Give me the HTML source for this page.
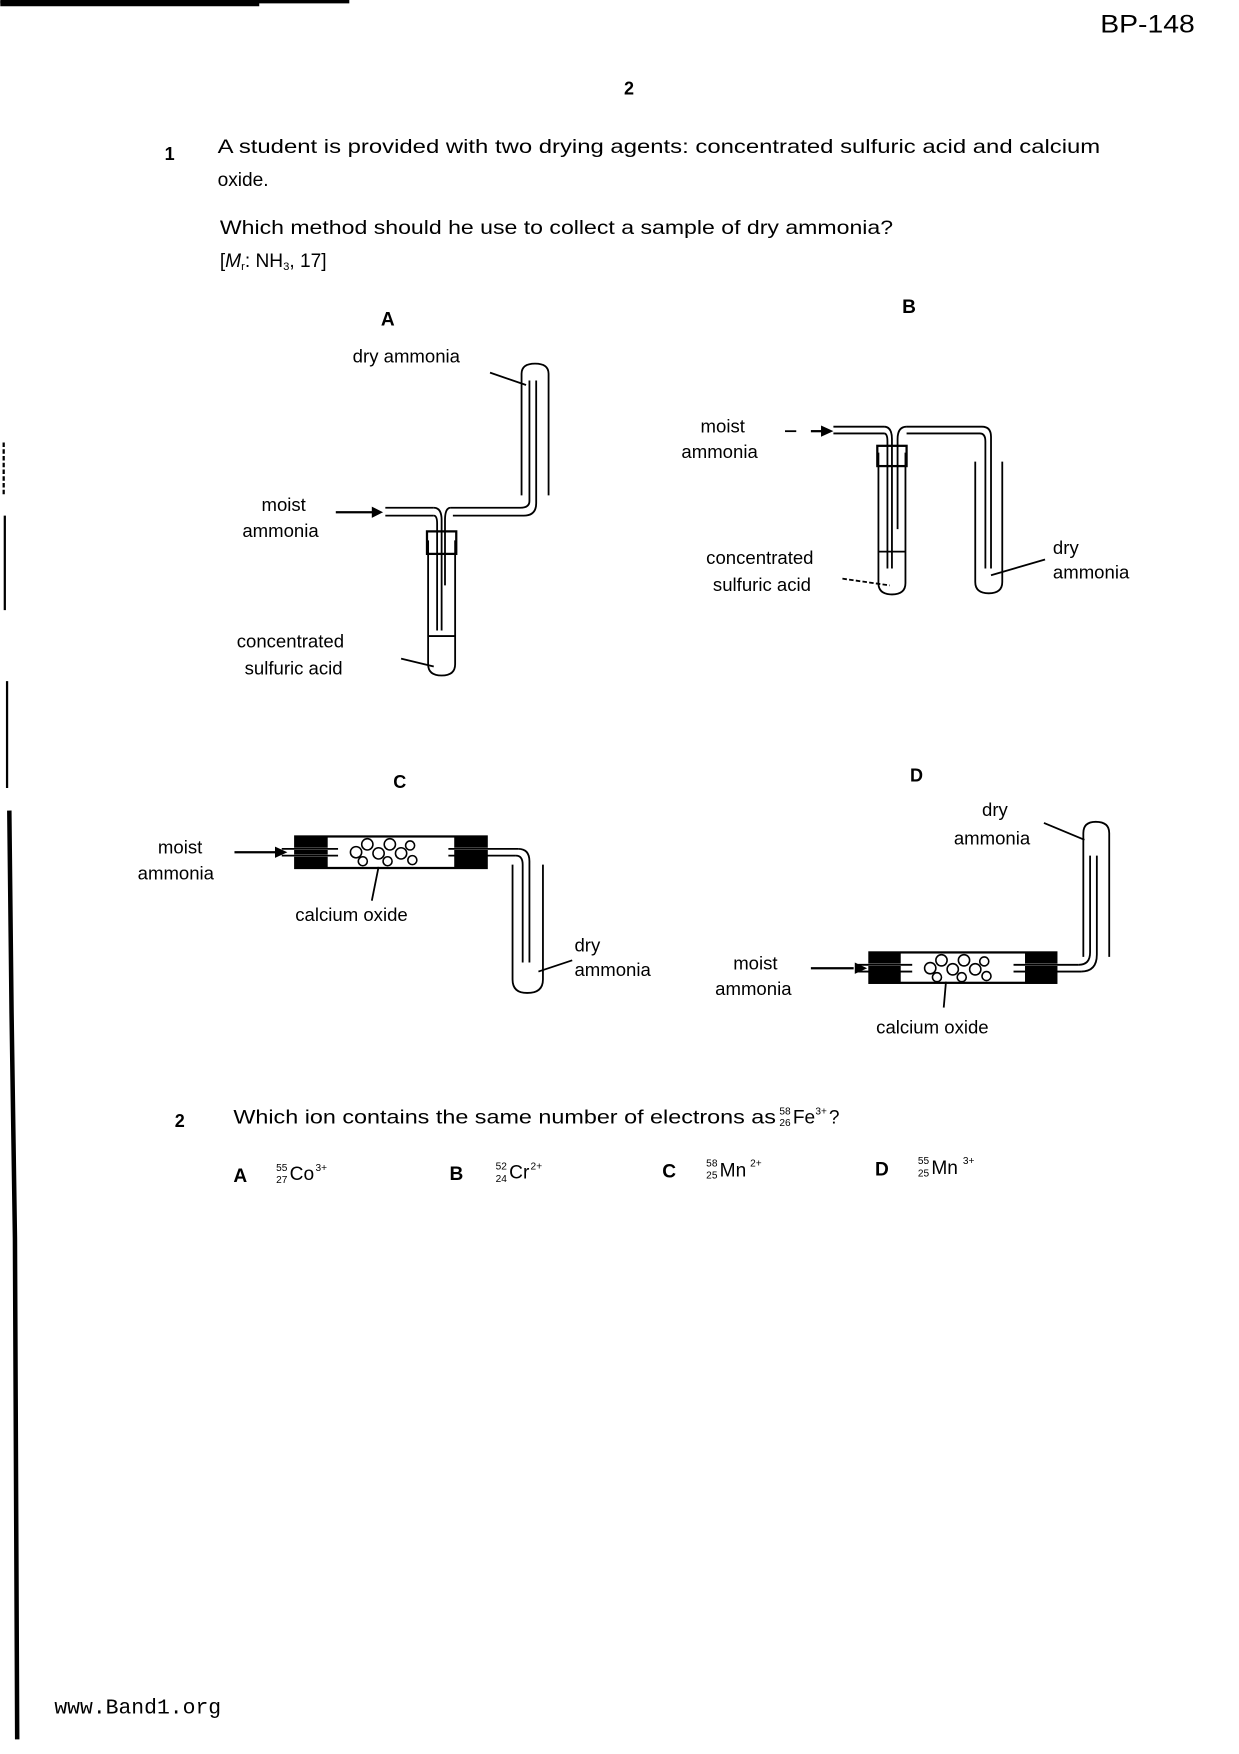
<!DOCTYPE html>
<html><head><meta charset="utf-8"><style>
html,body{margin:0;padding:0;background:#fff;}
svg{display:block;}
text{font-family:"Liberation Sans",Arial,sans-serif;fill:#000;}
.t{font-size:17px;}
.l{font-size:16.5px;}
.b{font-weight:bold;}
.s{font-size:9px;}
</style></head><body>
<svg width="1239" height="1754" viewBox="0 0 1100 1558" xmlns="http://www.w3.org/2000/svg">
<g stroke="#000" fill="none">
<line x1="0" y1="1.5" x2="310" y2="1.5" stroke-width="3"/>
<line x1="0" y1="3" x2="230" y2="3" stroke-width="5"/>
<line x1="3" y1="393" x2="3" y2="440" stroke-width="2" stroke-dasharray="4 2"/>
<line x1="4" y1="458" x2="4" y2="542" stroke-width="2"/>
<line x1="6" y1="605" x2="6" y2="700" stroke-width="2"/>
<path d="M8 720 L10 900 L13 1100 L15 1545" stroke-width="4"/>
</g>

<text x="977" y="29" style="font-size:22px" textLength="84" lengthAdjust="spacingAndGlyphs">BP-148</text>
<text x="554" y="84" class="b" style="font-size:16px">2</text>
<text x="146" y="142" class="b" style="font-size:16px">1</text>
<text x="193" y="136" class="t" textLength="784" lengthAdjust="spacingAndGlyphs">A student is provided with two drying agents: concentrated sulfuric acid and calcium</text>
<text x="193" y="165" class="t">oxide.</text>
<text x="195" y="208" class="t" textLength="598" lengthAdjust="spacingAndGlyphs">Which method should he use to collect a sample of dry ammonia?</text>
<text x="195" y="237" class="t">[<tspan font-style="italic">M</tspan><tspan font-size="10" dy="3">r</tspan><tspan dy="-3">: NH</tspan><tspan font-size="10" dy="3">3</tspan><tspan dy="-3">, 17]</tspan></text>

<text x="338" y="289" class="b" style="font-size:17px">A</text>
<text x="313" y="322" class="l">dry ammonia</text>
<text x="232" y="454" class="l">moist</text>
<text x="215" y="477" class="l">ammonia</text>
<text x="210" y="575" class="l">concentrated</text>
<text x="217" y="599" class="l">sulfuric acid</text>
<g stroke="#000" fill="none" stroke-width="1.6">
<line x1="435" y1="331" x2="467" y2="342"/>
<path d="M463 440 L463 332 Q463 323 475 323 Q487 323 487 332 L487 440"/>
<path d="M470 338 L470 445 Q470 451 462 451 L400 451"/>
<path d="M476 338 L476 447 Q476 458 465 458 L402 458"/>
<line x1="342" y1="451" x2="385" y2="451"/>
<line x1="342" y1="458" x2="385" y2="458"/>
<path d="M385 451 Q392 451 392 462 L392 560"/>
<path d="M385 458 Q388 458 388 465 L388 560"/>
<path d="M400 451 Q395 451 395 462 L395 520"/>
<path d="M380 480 L380 590 Q380 600 392 600 Q404 600 404 590 L404 480"/>
<rect x="379" y="472" width="26" height="20" stroke-width="2"/>
<line x1="380" y1="565" x2="404" y2="565"/>
<line x1="356" y1="585" x2="385" y2="592"/>
<line x1="298" y1="455" x2="332" y2="455" stroke-width="2"/>
</g>
<polygon points="340,455 330,450 330,460" fill="#000"/>

<text x="801" y="278" class="b" style="font-size:17px">B</text>
<text x="622" y="384" class="l">moist</text>
<text x="605" y="407" class="l">ammonia</text>
<text x="627" y="501" class="l">concentrated</text>
<text x="633" y="525" class="l">sulfuric acid</text>
<text x="935" y="492" class="l">dry</text>
<text x="935" y="514" class="l">ammonia</text>
<g stroke="#000" fill="none" stroke-width="1.6">
<line x1="697" y1="383" x2="707" y2="383"/>
<line x1="720" y1="383" x2="730" y2="383" stroke-width="2"/>
<line x1="740" y1="379" x2="785" y2="379"/>
<line x1="740" y1="385" x2="785" y2="385"/>
<path d="M785 379 Q792 379 792 390 L792 505"/>
<path d="M785 385 Q788 385 788 392 L788 505"/>
<path d="M805 379 L872 379 Q880 379 880 388 L880 505"/>
<path d="M805 385 L870 385 Q875 385 875 392 L875 505"/>
<path d="M805 379 Q797 379 797 390 L797 470"/>
<path d="M780 402 L780 518 Q780 528 792 528 Q804 528 804 518 L804 402"/>
<rect x="779" y="396" width="26" height="18" stroke-width="2"/>
<line x1="780" y1="490" x2="804" y2="490"/>
<path d="M866 410 L866 517 Q866 527 878 527 Q890 527 890 517 L890 410"/>
<line x1="748" y1="514" x2="790" y2="520" stroke-dasharray="4 2"/>
<line x1="928" y1="497" x2="880" y2="511"/>
</g>
<polygon points="740,383 729,378 729,388" fill="#000"/>

<text x="349" y="700" class="b" style="font-size:16px">C</text>
<text x="140" y="758" class="l">moist</text>
<text x="122" y="781" class="l">ammonia</text>
<text x="262" y="818" class="l">calcium oxide</text>
<text x="510" y="845" class="l">dry</text>
<text x="510" y="867" class="l">ammonia</text>
<g stroke="#000" fill="none" stroke-width="1.6">
<line x1="208" y1="757" x2="246" y2="757" stroke-width="2"/>
<rect x="262" y="743" width="170" height="28" stroke-width="2"/>
<rect x="262" y="743" width="28" height="28" fill="#000"/>
<rect x="404" y="743" width="28" height="28" fill="#000"/>
<line x1="250" y1="754" x2="300" y2="754" stroke="#fff" stroke-width="2"/>
<line x1="250" y1="760" x2="300" y2="760" stroke="#fff" stroke-width="2"/>
<line x1="250" y1="754" x2="300" y2="754"/>
<line x1="250" y1="760" x2="300" y2="760"/>
<line x1="398" y1="754" x2="460" y2="754" stroke="#fff" stroke-width="2"/>
<line x1="398" y1="754" x2="460" y2="754"/>
<line x1="398" y1="760" x2="458" y2="760"/>
<path d="M460 754 Q470 754 470 765 L470 855"/>
<path d="M458 760 Q464 760 464 768 L464 855"/>
<path d="M455 768 L455 870 Q455 882 468 882 Q482 882 482 870 L482 768"/>
<line x1="330" y1="800" x2="336" y2="770"/>
<line x1="508" y1="853" x2="478" y2="863"/>
</g>
<g stroke="#000" fill="#fff" stroke-width="1.4">
<circle cx="316" cy="757" r="5"/><circle cx="326" cy="750" r="5"/><circle cx="336" cy="758" r="5"/><circle cx="346" cy="750" r="5"/><circle cx="356" cy="758" r="5"/><circle cx="322" cy="765" r="4"/><circle cx="344" cy="765" r="4"/><circle cx="364" cy="751" r="4"/><circle cx="366" cy="764" r="4"/>
</g>
<polygon points="255,757 244,752 244,762" fill="#000"/>

<text x="808" y="694" class="b" style="font-size:16px">D</text>
<text x="872" y="725" class="l">dry</text>
<text x="847" y="750" class="l">ammonia</text>
<text x="651" y="861" class="l">moist</text>
<text x="635" y="884" class="l">ammonia</text>
<text x="778" y="918" class="l">calcium oxide</text>
<g stroke="#000" fill="none" stroke-width="1.6">
<line x1="720" y1="860" x2="758" y2="860" stroke-width="2"/>
<rect x="772" y="846" width="166" height="27" stroke-width="2"/>
<rect x="772" y="846" width="27" height="27" fill="#000"/>
<rect x="911" y="846" width="27" height="27" fill="#000"/>
<line x1="762" y1="857" x2="810" y2="857" stroke="#fff" stroke-width="2"/>
<line x1="762" y1="857" x2="810" y2="857"/>
<line x1="762" y1="863" x2="810" y2="863"/>
<line x1="900" y1="857" x2="958" y2="857" stroke="#fff" stroke-width="2"/>
<line x1="900" y1="857" x2="958" y2="857"/>
<line x1="900" y1="863" x2="960" y2="863"/>
<path d="M958 857 Q968 857 968 846 L968 760"/>
<path d="M960 863 Q974 863 974 848 L974 760"/>
<path d="M962 850 L962 740 Q962 730 973 730 Q985 730 985 740 L985 850"/>
<line x1="927" y1="731" x2="963" y2="746"/>
<line x1="838" y1="895" x2="840" y2="872"/>
</g>
<g stroke="#000" fill="#fff" stroke-width="1.4">
<circle cx="826" cy="860" r="5"/><circle cx="836" cy="853" r="5"/><circle cx="846" cy="861" r="5"/><circle cx="856" cy="853" r="5"/><circle cx="866" cy="861" r="5"/><circle cx="832" cy="868" r="4"/><circle cx="854" cy="868" r="4"/><circle cx="874" cy="854" r="4"/><circle cx="876" cy="867" r="4"/>
</g>
<polygon points="770,860 759,855 759,865" fill="#000"/>

<text x="155" y="1001" class="b" style="font-size:16px">2</text>
<text x="207" y="998" class="t" textLength="482" lengthAdjust="spacingAndGlyphs">Which ion contains the same number of electrons as</text>
<text x="692" y="990" class="s">58</text><text x="692" y="1000" class="s">26</text><text x="704" y="998" class="t">Fe</text><text x="724" y="990" class="s">3+</text><text x="736" y="998" class="t">?</text>

<text x="207" y="1050" class="t b">A</text>
<text x="245" y="1040" class="s">55</text><text x="245" y="1051" class="s">27</text><text x="257" y="1048" class="t">Co</text><text x="280" y="1040" class="s">3+</text>
<text x="399" y="1048" class="t b">B</text>
<text x="440" y="1039" class="s">52</text><text x="440" y="1050" class="s">24</text><text x="452" y="1047" class="t">Cr</text><text x="471" y="1039" class="s">2+</text>
<text x="588" y="1046" class="t b">C</text>
<text x="627" y="1036" class="s">58</text><text x="627" y="1047" class="s">25</text><text x="639" y="1045" class="t">Mn</text><text x="666" y="1036" class="s">2+</text>
<text x="777" y="1044" class="t b">D</text>
<text x="815" y="1034" class="s">55</text><text x="815" y="1045" class="s">25</text><text x="827" y="1043" class="t">Mn</text><text x="855" y="1034" class="s">3+</text>

<text x="48" y="1522" style="font-family:'Liberation Mono',monospace;font-size:19px">www.Band1.org</text>
</svg>
</body></html>
